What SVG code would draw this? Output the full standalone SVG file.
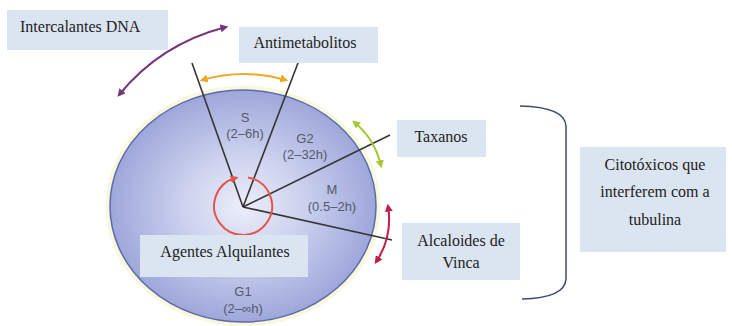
<svg xmlns="http://www.w3.org/2000/svg" width="732" height="326" viewBox="0 0 732 326">
<defs>
<radialGradient id="cell" cx="50%" cy="50%" r="50%">
<stop offset="0" stop-color="#eceef9"/>
<stop offset="0.45" stop-color="#ccd1ee"/>
<stop offset="1" stop-color="#9ea7da"/>
</radialGradient>
<marker id="mPurple" viewBox="0 0 10 10" refX="7" refY="5" markerWidth="4" markerHeight="4" orient="auto-start-reverse"><path d="M0,0 L10,5 L0,10 z" fill="#74357c"/></marker>
<marker id="mOrange" viewBox="0 0 10 10" refX="7" refY="5" markerWidth="4" markerHeight="4" orient="auto-start-reverse"><path d="M0,0 L10,5 L0,10 z" fill="#eea928"/></marker>
<marker id="mGreen" viewBox="0 0 10 10" refX="7" refY="5" markerWidth="4" markerHeight="4" orient="auto-start-reverse"><path d="M0,0 L10,5 L0,10 z" fill="#a6c636"/></marker>
<marker id="mRed" viewBox="0 0 10 10" refX="7" refY="5" markerWidth="4" markerHeight="4" orient="auto-start-reverse"><path d="M0,0 L10,5 L0,10 z" fill="#c41c48"/></marker>
<marker id="mCircle" viewBox="0 0 10 10" refX="6" refY="5" markerWidth="4" markerHeight="4" orient="auto"><path d="M0,0 L10,5 L0,10 z" fill="#e2554f"/></marker>
</defs>
<style>
.box{fill:#dbe5f1}
.lbl{font-family:"Liberation Serif","Times New Roman",serif;font-size:16px;fill:#222}
.ph{font-family:"Liberation Sans",Arial,sans-serif;font-size:13px;fill:#555a6e;text-anchor:middle}
.ray{stroke:#353535;stroke-width:1.6;fill:none}
.arc{fill:none;stroke-width:2}
</style>
<rect width="732" height="326" fill="#ffffff"/>

<g id="cycle">
<ellipse cx="243" cy="206" rx="134" ry="117" fill="none" stroke="#f7f3cf" stroke-width="7" opacity="0.7"/>
<ellipse cx="243" cy="206" rx="133" ry="116" fill="url(#cell)" stroke="#5b6aa8" stroke-width="1.5"/>
<text class="ph" x="245" y="122">S</text>
<text class="ph" x="245" y="138">(2–6h)</text>
<text class="ph" x="305" y="143">G2</text>
<text class="ph" x="305" y="159">(2–32h)</text>
<text class="ph" x="332" y="194">M</text>
<text class="ph" x="332" y="211">(0.5–2h)</text>
<text class="ph" x="243" y="296">G1</text>
<text class="ph" x="243" y="313">(2–∞h)</text>
</g>

<g id="connectors">
<line class="ray" x1="192" y1="63" x2="243" y2="207"/>
<line class="ray" x1="298" y1="63" x2="243" y2="207"/>
<line class="ray" x1="243" y1="207" x2="390" y2="135"/>
<line class="ray" x1="243" y1="207" x2="392" y2="240"/>
<path class="arc" d="M248,177.4 A29,29 0 1 1 235.5,178" stroke="#e2554f" marker-end="url(#mCircle)"/>
<path class="arc" d="M119,95 Q160,44 226,27" stroke="#74357c" marker-start="url(#mPurple)" marker-end="url(#mPurple)"/>
<path class="arc" d="M202,80 Q244,68 286,80" stroke="#eea928" marker-start="url(#mOrange)" marker-end="url(#mOrange)"/>
<path class="arc" d="M354,122 Q375,139 381,166" stroke="#a6c636" marker-start="url(#mGreen)" marker-end="url(#mGreen)"/>
<path class="arc" d="M388,206 Q393,237 376,262" stroke="#c41c48" marker-start="url(#mRed)" marker-end="url(#mRed)"/>
<path d="M520,106 Q565,107 566,126 L566,279 Q565,298 522,299" fill="none" stroke="#3c4b6c" stroke-width="1.5"/>
</g>

<g id="intercalantes">
<rect class="box" x="7" y="10" width="161" height="40"/>
<text class="lbl" x="20" y="32">Intercalantes DNA</text>
</g>
<g id="antimetabolitos">
<rect class="box" x="239" y="27" width="139" height="36"/>
<text class="lbl" x="305" y="48" text-anchor="middle">Antimetabolitos</text>
</g>
<g id="taxanos">
<rect class="box" x="397" y="120" width="89" height="37"/>
<text class="lbl" x="441" y="142" text-anchor="middle">Taxanos</text>
</g>
<g id="alcaloides">
<rect class="box" x="402" y="223" width="118" height="57"/>
<text class="lbl" x="461" y="246" text-anchor="middle">Alcaloides de</text>
<text class="lbl" x="461" y="268" text-anchor="middle">Vinca</text>
</g>
<g id="agentes">
<rect class="box" x="140" y="235" width="168" height="42"/>
<text class="lbl" x="225" y="257" text-anchor="middle">Agentes Alquilantes</text>
</g>
<g id="citotoxicos">
<rect class="box" x="580" y="147" width="146" height="105"/>
<text class="lbl" x="655" y="170" text-anchor="middle">Citotóxicos que</text>
<text class="lbl" x="655" y="197" text-anchor="middle">interferem com a</text>
<text class="lbl" x="655" y="225" text-anchor="middle">tubulina</text>
</g>
</svg>
